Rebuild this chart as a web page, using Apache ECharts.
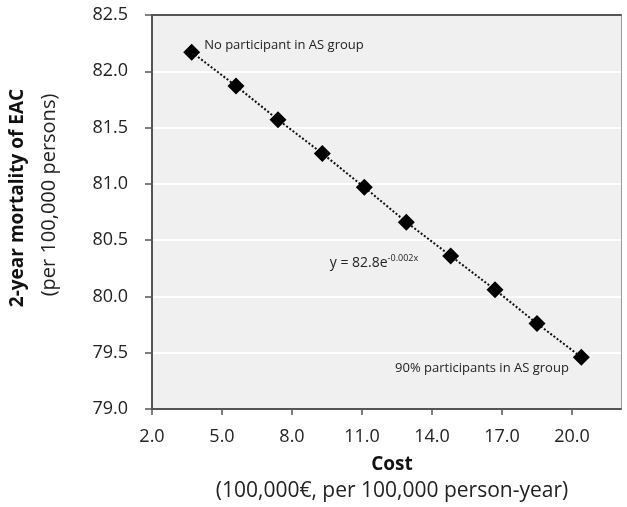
<!DOCTYPE html>
<html>
<head>
<meta charset="utf-8">
<script src="https://cdn.jsdelivr.net/npm/echarts@6/dist/echarts.min.js"></script>
<style>
  html, body { margin: 0; padding: 0; background: #fff; }
  #echart { width: 627px; height: 507px; }
</style>
</head>
<body>
<div id="echart"></div>
<script>
// cost (100,000 EUR per 100,000 person-year) and 2-year mortality of EAC
var costs = [3.7, 5.6, 7.4, 9.3, 11.1, 12.9, 14.8, 16.7, 18.5, 20.4];
var mortality = [82.17, 81.87, 81.57, 81.27, 80.97, 80.66, 80.36, 80.06, 79.76, 79.46];
var xTicks = [2, 5, 8, 11, 14, 17, 20];
var yTicks = [79.0, 79.5, 80.0, 80.5, 81.0, 81.5, 82.0, 82.5];

var font = 'Open Sans';
var points = [];
for (var i = 0; i < costs.length; i++) {
    points.push([costs[i], mortality[i]]);
}

// annotations on the first, the 7th and the last point
points[0] = {
    value: points[0],
    label: {
        show: true, position: 'right', distance: 4, offset: [0, -7],
        formatter: 'No participant in AS group',
        color: '#222', fontFamily: font, fontSize: 13
    }
};
points[6] = {
    value: points[6],
    label: {
        show: true, position: 'left', distance: 24, offset: [0, 7],
        formatter: '{a|y = 82.8e}{b|-0.002x}',
        rich: {
            a: {color: '#222', fontFamily: font, fontSize: 14},
            b: {color: '#222', fontFamily: font, fontSize: 9, padding: [0, 0, 9, 0]}
        }
    }
};
points[9] = {
    value: points[9],
    label: {
        show: true, position: 'left', distance: 4, offset: [0, 11],
        formatter: '90% participants in AS group',
        color: '#222', fontFamily: font, fontSize: 13
    }
};

var myChart = echarts.init(document.getElementById('echart'));
var option = {
    animation: false,
    grid: {
        left: 152,
        right: 6,
        top: 15,
        bottom: 98,
        show: true,
        backgroundColor: '#f0f0f0',
        borderWidth: 0
    },
    // axis titles
    graphic: [{
        type: 'text',
        x: 18,
        y: 198,
        rotation: Math.PI / 2,
        style: {
            text: '2-year mortality of EAC',
            font: 'bold 19px "Open Sans"',
            fill: '#111',
            textAlign: 'center',
            textVerticalAlign: 'middle'
        }
    }, {
        type: 'text',
        x: 49,
        y: 195,
        rotation: Math.PI / 2,
        style: {
            text: '(per 100,000 persons)',
            font: '20px "Open Sans"',
            fill: '#222',
            textAlign: 'center',
            textVerticalAlign: 'middle'
        }
    }, {
        type: 'text',
        x: 392,
        y: 465,
        style: {
            text: 'Cost',
            font: 'bold 19px "Open Sans"',
            fill: '#111',
            textAlign: 'center',
            textVerticalAlign: 'middle'
        }
    }, {
        type: 'text',
        x: 392,
        y: 491,
        style: {
            text: '(100,000€, per 100,000 person-year)',
            font: '21px "Open Sans"',
            fill: '#222',
            textAlign: 'center',
            textVerticalAlign: 'middle'
        }
    }],
    xAxis: [{
        type: 'value',
        min: 2,
        max: 22.1,
        axisLine: {show: true, onZero: false, lineStyle: {color: '#555', width: 2}},
        axisTick: {show: true, inside: false, length: 6, customValues: xTicks, lineStyle: {color: '#555', width: 1.5}},
        axisLabel: {
            customValues: xTicks,
            margin: 19,
            fontFamily: font,
            fontSize: 18,
            color: '#222',
            formatter: function (v) { return v.toFixed(1); }
        },
        splitLine: {show: false}
    }, {
        type: 'value',
        position: 'top',
        min: 2,
        max: 22.1,
        axisLine: {show: true, onZero: false, lineStyle: {color: '#555', width: 2}},
        axisTick: {show: false},
        axisLabel: {show: false},
        splitLine: {show: false}
    }],
    yAxis: [{
        type: 'value',
        min: 79,
        max: 82.5,
        interval: 0.5,
        axisLine: {show: true, onZero: false, lineStyle: {color: '#555', width: 2}},
        axisTick: {show: true, inside: false, length: 7, lineStyle: {color: '#555', width: 1.5}},
        axisLabel: {
            margin: 24,
            fontFamily: font,
            fontSize: 18,
            color: '#222',
            formatter: function (v) { return v.toFixed(1); }
        },
        splitLine: {show: true, lineStyle: {color: '#ffffff', width: 2}}
    }, {
        type: 'value',
        position: 'right',
        min: 79,
        max: 82.5,
        axisLine: {show: true, onZero: false, lineStyle: {color: '#999', width: 1}},
        axisTick: {show: false},
        axisLabel: {show: false},
        splitLine: {show: false}
    }],
    series: [{
        type: 'line',
        data: points,
        symbol: 'diamond',
        symbolSize: 17,
        itemStyle: {color: '#000'},
        lineStyle: {color: '#111', width: 2, type: [2, 2]},
        z: 5
    }]
};
myChart.setOption(option);
</script>
</body>
</html>
